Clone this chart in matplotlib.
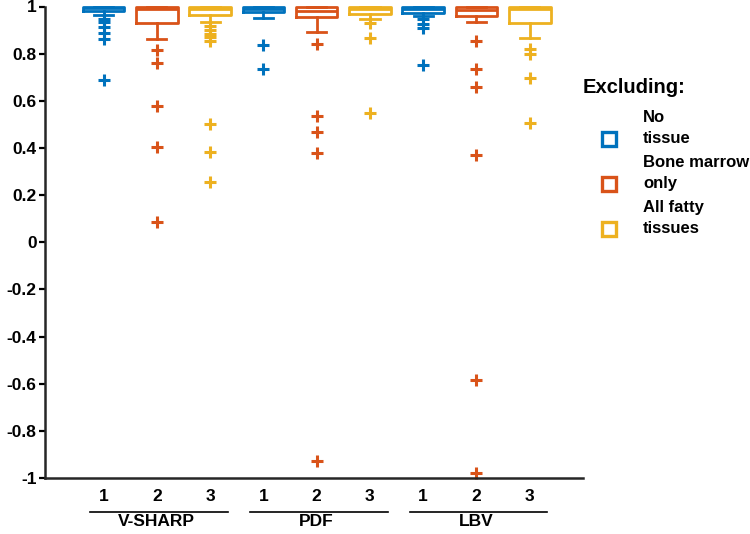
import matplotlib
matplotlib.use("Agg")
import matplotlib.pyplot as plt
from matplotlib.lines import Line2D

plt.rcParams['font.family'] = ['Liberation Sans', 'DejaVu Sans']
plt.rcParams['font.weight'] = 'bold'

groups = ["V-SHARP", "PDF", "LBV"]
series = ["No\ntissue", "Bone marrow\nonly", "All fatty\ntissues"]
colors = ["#0072BD", "#D95319", "#EDB120"]
tick_labels = ["1", "2", "3"]

# box statistics per (method, exclusion) in order
q1 = [0.983, 0.928, 0.965, 0.975, 0.954, 0.970, 0.972, 0.960, 0.930]
med = [0.992, 0.990, 0.988, 0.988, 0.980, 0.988, 0.988, 0.985, 0.990]
q3 = [0.998, 0.997, 0.997, 0.998, 0.997, 0.997, 0.998, 0.997, 0.998]
whislo = [0.962, 0.862, 0.935, 0.952, 0.890, 0.945, 0.960, 0.935, 0.865]
whishi = [1.0, 1.0, 1.0, 1.0, 1.0, 1.0, 1.0, 1.0, 1.0]
fliers = [
    [0.948, 0.933, 0.914, 0.888, 0.863, 0.690],
    [0.815, 0.760, 0.580, 0.405, 0.088],
    [0.918, 0.900, 0.885, 0.870, 0.852, 0.500, 0.382, 0.255],
    [0.835, 0.733],
    [0.840, 0.534, 0.468, 0.380, -0.928],
    [0.930, 0.865, 0.550],
    [0.945, 0.927, 0.910, 0.750],
    [0.853, 0.737, 0.660, 0.370, -0.585, -0.978],
    [0.820, 0.800, 0.697, 0.505],
]

fig = plt.figure(figsize=(7.5, 5.34), dpi=100)
ax = fig.add_axes([45/750, 1-478/534, (583-45)/750, (478-6.5)/534])

lw = 2.0
for i in range(9):
    c = colors[i % 3]
    pos = i + 1
    st = dict(med=med[i], q1=q1[i], q3=q3[i], whislo=whislo[i],
              whishi=whishi[i], fliers=fliers[i])
    arts = ax.bxp([st], positions=[pos], widths=0.78, capwidths=[0.36],
                  boxprops=dict(color=c, linewidth=lw),
                  medianprops=dict(color=c, linewidth=lw),
                  whiskerprops=dict(color=c, linewidth=lw, linestyle='-'),
                  capprops=dict(color=c, linewidth=lw),
                  flierprops=dict(marker='+', markeredgecolor=c,
                                  markersize=9, markeredgewidth=2.2,
                                  linestyle='none'),
                  manage_ticks=False)
    for k in arts:
        for a in arts[k]:
            a.set_clip_on(False)

ax.set_xlim(-0.1, 10)
ax.set_ylim(-1, 1)
ax.set_xticks(range(1, 10))
ax.set_xticklabels(tick_labels * 3, fontsize=12.5, fontweight='bold')
yt = [-1, -0.8, -0.6, -0.4, -0.2, 0, 0.2, 0.4, 0.6, 0.8, 1]
ax.set_yticks(yt)
ax.set_yticklabels([f"{v:g}" for v in yt], fontsize=12.5, fontweight='bold')
ax.tick_params(axis='x', length=0, pad=8)
ax.tick_params(axis='y', direction='out', length=4, width=1.6, pad=2)
for s in ['top', 'right']:
    ax.spines[s].set_visible(False)
for s in ['left', 'bottom']:
    ax.spines[s].set_linewidth(1.8)
    ax.spines[s].set_color('#262626')

# group labels
for g, name in enumerate(groups):
    center = 3 * g + 2
    ax.plot([center - 1.25, center + 1.33], [-0.072, -0.072],
            transform=ax.get_xaxis_transform(), color='black',
            linewidth=1.2, clip_on=False)
    ax.text(center, -0.093, name, transform=ax.get_xaxis_transform(),
            ha='center', va='center', fontsize=12.5, fontweight='bold')

# legend
fig.text(583/750, 1-87/534, "Excluding:", ha='left', va='center',
         fontsize=14.5, fontweight='bold')
for j, (lab, c) in enumerate(zip(series, colors)):
    ym = 139 + 45 * j
    fig.add_artist(Line2D([609/750], [1-ym/534], marker='s', markersize=10.5,
                          markerfacecolor='none', markeredgecolor=c,
                          markeredgewidth=2.4, linestyle='none',
                          transform=fig.transFigure))
    fig.text(643/750, 1-(ym - 11)/534, lab, ha='left', va='center',
             fontsize=12, fontweight='bold', linespacing=1.55)

fig.savefig("out.png", dpi=100)
